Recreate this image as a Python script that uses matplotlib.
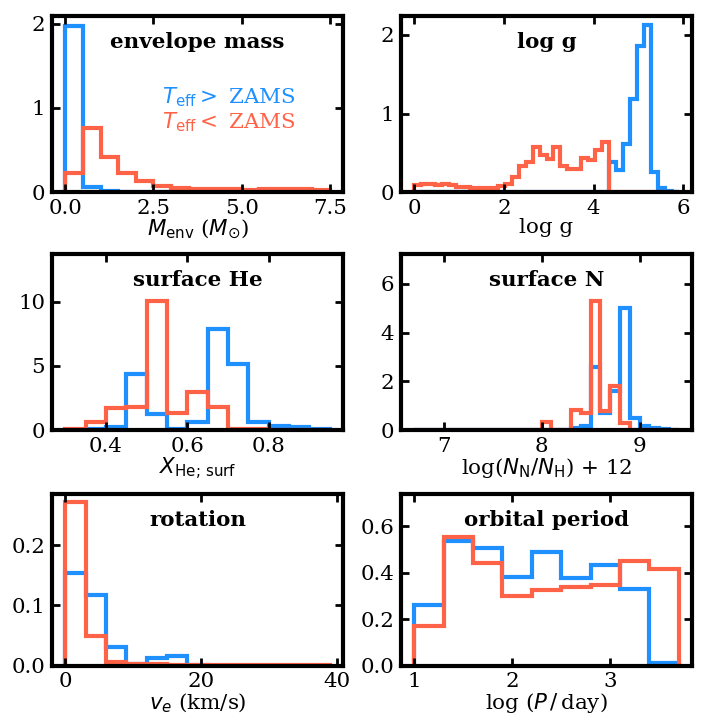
import numpy as np
import matplotlib.pyplot as plt

plt.rcParams['font.family'] = 'serif'
plt.rcParams['font.size'] = 15.4
plt.rcParams['axes.linewidth'] = 3

BLUE = 'dodgerblue'
RED = 'tomato'

# envelope mass (Msun), 15 bins over 0-7.5
menv_edges = np.linspace(0.0, 7.5, 16)
menv_hot = [1.97, 0.06, 0.01, 0.0, 0.0, 0.0, 0.0, 0.0, 0.0, 0.0, 0.0, 0.0, 0.0, 0.0, 0.0]
menv_cool = [0.23, 0.76, 0.42, 0.23, 0.13, 0.075, 0.05, 0.04, 0.035, 0.035, 0.03, 0.035,
             0.045, 0.04, 0.03]

# log g, 38 bins over 0-5.9
logg_edges = np.linspace(0.0, 5.9, 39)
logg_hot = [0.0] * 28 + [0.39, 0.28, 0.62, 1.19, 1.86, 2.12, 0.26, 0.05, 0.02, 0.005]
logg_cool = [0.09, 0.11, 0.11, 0.09, 0.10, 0.09, 0.07, 0.07, 0.05, 0.05, 0.06, 0.06,
             0.08, 0.11, 0.19, 0.33, 0.38, 0.57, 0.48, 0.42, 0.57, 0.33, 0.29, 0.29,
             0.44, 0.41, 0.54, 0.64] + [0.0] * 10

# surface helium mass fraction
he_edges = np.linspace(0.30, 0.95, 14)
he_hot = [0.0, 0.1, 0.2, 4.36, 1.25, 0.05, 0.65, 7.9, 5.15, 0.65, 0.3, 0.2, 0.1]
he_cool = [0.1, 0.6, 1.75, 1.8, 10.05, 1.3, 2.95, 1.8, 0.1, 0.05, 0.0, 0.0, 0.0]

# surface nitrogen, log(N/H)+12
n_edges = np.linspace(6.7, 9.4, 28)
n_hot = [0.0] * 16 + [0.1, 0.18, 2.6, 0.7, 1.62, 5.02, 0.5, 0.15, 0.08, 0.03, 0.0]
n_cool = [0.0] * 13 + [0.32, 0.0, 0.0, 0.83, 0.7, 5.3, 0.8, 1.82, 0.28, 0.0, 0.0, 0.0,
                       0.0, 0.0]

# equatorial rotation velocity (km/s)
rot_edges = np.linspace(0.0, 39.0, 14)
rot_hot = [0.154, 0.118, 0.030, 0.003, 0.0125, 0.015, 0.0005, 0.0, 0.0, 0.0, 0.0, 0.0, 0.0]
rot_cool = [0.272, 0.049, 0.0054, 0.003, 0.002, 0.001, 0.001, 0.001, 0.001, 0.001,
            0.001, 0.001, 0.001]

# orbital period, log(P/day)
per_edges = np.linspace(1.0, 3.7, 10)
per_hot = [0.259, 0.538, 0.506, 0.384, 0.488, 0.377, 0.435, 0.33, 0.012]
per_cool = [0.171, 0.553, 0.442, 0.298, 0.327, 0.337, 0.348, 0.452, 0.416]

panels = [
    dict(edges=menv_edges, hot=menv_hot, cool=menv_cool, title='envelope mass',
         xlabel=r'$M_{\rm env}$ ($M_{\odot}$)', xticks=[0, 2.5, 5, 7.5],
         xticklabels=['0.0', '2.5', '5.0', '7.5'], yticks=[0, 1, 2], ylim=2.09),
    dict(edges=logg_edges, hot=logg_hot, cool=logg_cool, title='log g',
         xlabel='log g', xticks=[0, 2, 4, 6], xticklabels=None, yticks=[0, 1, 2], ylim=2.24),
    dict(edges=he_edges, hot=he_hot, cool=he_cool, title='surface He',
         xlabel=r'$X_{\rm He;\,surf}$', xticks=[0.4, 0.6, 0.8], xticklabels=None,
         yticks=[0, 5, 10], ylim=13.7),
    dict(edges=n_edges, hot=n_hot, cool=n_cool, title='surface N',
         xlabel=r'log($N_{\rm N}/N_{\rm H}$) + 12', xticks=[7, 8, 9], xticklabels=None,
         yticks=[0, 2, 4, 6], ylim=7.23),
    dict(edges=rot_edges, hot=rot_hot, cool=rot_cool, title='rotation',
         xlabel=r'$v_e$ (km/s)', xticks=[0, 20, 40], xticklabels=None,
         yticks=[0.0, 0.1, 0.2], ylim=0.2856),
    dict(edges=per_edges, hot=per_hot, cool=per_cool, title='orbital period',
         xlabel=r'log ($P\,/\,$day)', xticks=[1, 2, 3], xticklabels=None,
         yticks=[0.0, 0.2, 0.4, 0.6], ylim=0.74),
]

fig = plt.figure(figsize=(7.06, 7.2), dpi=100)
lefts = [52 / 706, 401 / 706]
width = 291 / 706
rows = [(16, 192.3), (254, 430), (494, 665.5)]

for i, p in enumerate(panels):
    top, bot = rows[i // 2]
    ax = fig.add_axes([lefts[i % 2], 1 - bot / 720, width, (bot - top) / 720])
    ax.stairs(p['hot'], p['edges'], color=BLUE, lw=3)
    ax.stairs(p['cool'], p['edges'], color=RED, lw=3)
    ax.set_xlim(p['edges'][0] - 0.05 * (p['edges'][-1] - p['edges'][0]),
                p['edges'][-1] + 0.05 * (p['edges'][-1] - p['edges'][0]))
    ax.set_ylim(0, p['ylim'])
    ax.set_xticks(p['xticks'])
    if p['xticklabels'] is not None:
        ax.set_xticklabels(p['xticklabels'])
    ax.set_yticks(p['yticks'])
    ax.tick_params(direction='in', top=True, right=True, length=6, width=2, pad=5)
    ax.set_xlabel(p['xlabel'], labelpad=0)
    ax.text(0.5, 0.85, p['title'], transform=ax.transAxes, ha='center', va='center',
            fontweight='bold')
    if i == 0:
        ax.text(0.378, 0.54, r'$T_{\rm eff} >$ ZAMS', color=BLUE, transform=ax.transAxes,
                ha='left', va='center')
        ax.text(0.378, 0.40, r'$T_{\rm eff} <$ ZAMS', color=RED, transform=ax.transAxes,
                ha='left', va='center')

fig.savefig('out.png', dpi=100)
